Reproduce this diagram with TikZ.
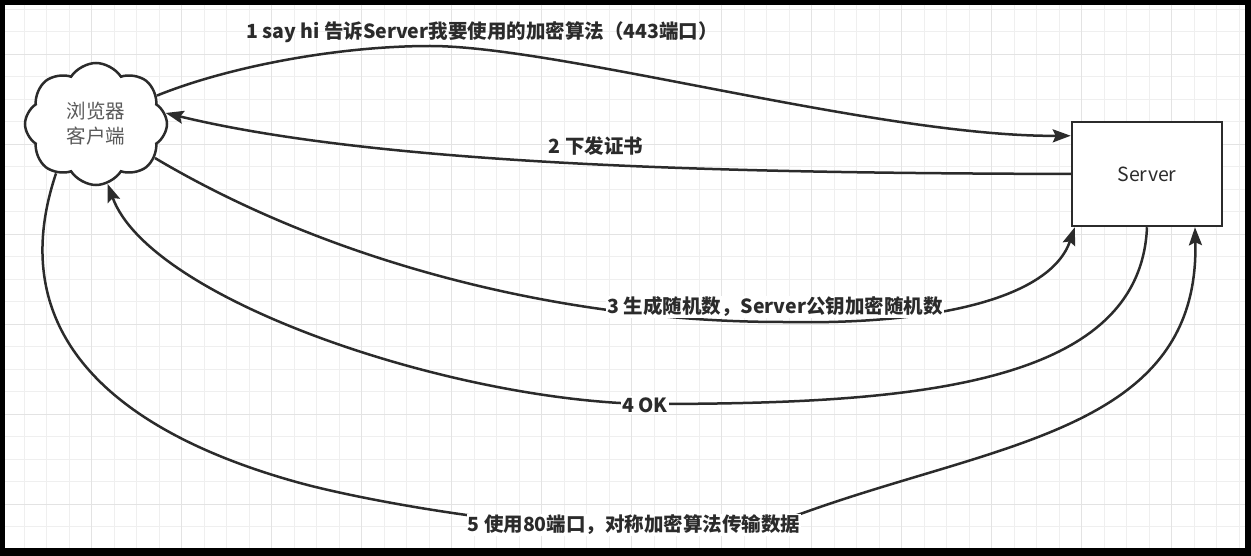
\documentclass[tikz,border=0pt]{standalone}
\usepackage{fontspec}
\newfontfamily\cjk{Noto Sans CJK SC}
\usetikzlibrary{shapes.symbols,arrows.meta,calc}
\definecolor{ink}{HTML}{2B2B2B}
\definecolor{gridminor}{HTML}{EFEFEF}
\definecolor{gridmajor}{HTML}{E3E3E3}
\definecolor{cloudtext}{HTML}{5A5A5A}
\begin{document}
\begin{tikzpicture}[x=1pt,y=-1pt,
  flow/.style={draw=ink, line width=2.5pt, -{Stealth[length=18pt,width=13pt,inset=3pt]}},
  steplabel/.style={font=\cjk\bfseries\fontsize{19.5}{23}\selectfont, text=ink, inner sep=1pt},
  masklabel/.style={steplabel, fill=white},
  boxstyle/.style={draw=ink, fill=white, line width=2.5pt, inner sep=0pt},
]
\useasboundingbox (0,0) rectangle (1251,556);
% frame and canvas
\fill[black] (0,0) rectangle (1251,556);
\fill[white] (5,5) rectangle (1245,548);
% background grid
\begin{scope}
  \clip (5,5) rectangle (1245,548);
  \foreach \k in {0,...,55}
    \draw[gridminor, line width=1pt] ({1.5+22.5*\k},5) -- ++(0,543);
  \foreach \k in {0,...,24}
    \draw[gridminor, line width=1pt] (5,{9.2+22.5*\k}) -- ++(1240,0);
  \foreach \k in {0,...,13}
    \draw[gridmajor, line width=1.3pt] ({1.5+90*\k},5) -- ++(0,543);
  \foreach \k in {0,...,5}
    \draw[gridmajor, line width=1.3pt] (5,{54.2+90*\k}) -- ++(1240,0);
\end{scope}

% nodes
\node[cloud, cloud puffs=8, cloud puff arc=115, aspect=1.16, boxstyle,
      minimum width=142pt, minimum height=122pt, text=cloudtext, align=center,
      font=\cjk\fontsize{19.5}{25}\selectfont] (client) at (96,124) {浏览器\\客户端};
\node[boxstyle, minimum width=150pt, minimum height=104pt, text=ink,
      font=\cjk\fontsize{19.5}{23}\selectfont] (server) at (1147,174) {Server};

% attachment points and waypoints
\coordinate (s1) at ($(server.north west)+(0,15)$);
\coordinate (s3) at ($(server.south west)+(4,0)$);
\coordinate (s5) at ($(server.south)+(48,0)$);
\coordinate (w1) at (430,46);
\coordinate (w3) at (783,322);
\coordinate (w4) at (645,404);
\coordinate (w5a) at (300,483);
\coordinate (w5b) at (803,513);

% connectors
\draw[flow] (client.25) .. controls (230,66) and (340,46) .. (w1)
            .. controls (560,46) and (880,137) .. (s1);
\draw[flow] (server.west) .. controls (800,173) and (400,170) .. (client.9);
\draw[flow] (client.-30) .. controls (330,262) and (560,322) .. (w3)
            .. controls (930,325) and (1050,300) .. (s3);
\draw[flow] (server.south) .. controls (1140,390) and (900,404) .. (w4)
            .. controls (450,400) and (150,300) .. (client.-79);
\draw[flow] (client.-129) .. controls (-10,370) and (180,450) .. (w5a)
            .. controls (400,510) and (683,556) .. (w5b)
            .. controls (1000,442) and (1200,430) .. (s5);

% labels
\node[steplabel] (l1) at (482,32) {1 say hi 告诉Server我要使用的加密算法（443端口）};
\node[steplabel] (l2) at (596,146) {2 下发证书};
\node[masklabel] (l3) at (775,307) {3 生成随机数，Server公钥加密随机数};
\node[masklabel] (l4) at (645,405) {4 OK};
\node[masklabel] (l5) at (634,525) {5 使用80端口，对称加密算法传输数据};
\end{tikzpicture}
\end{document}
